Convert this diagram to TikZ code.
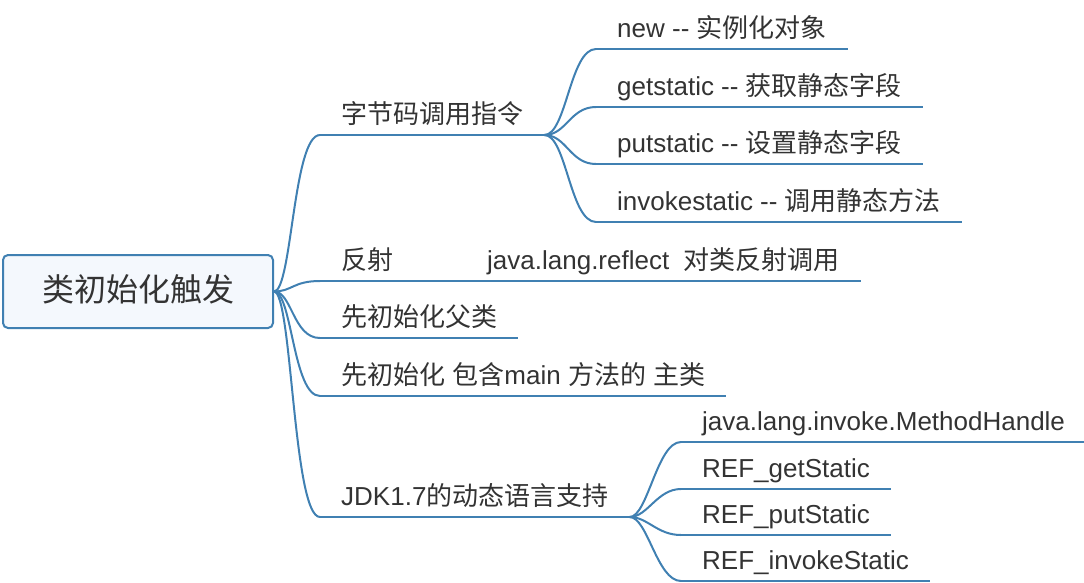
\documentclass[tikz,border=0pt]{standalone}
\usepackage{fontspec}
\usepackage{xcolor}
\usepackage{tikz}
\setmainfont{Liberation Sans}
\newfontfamily\cjkfont{Noto Sans CJK SC}

% switch to the CJK font for ideographs
\XeTeXinterchartokenstate=1
\newXeTeXintercharclass\cjkclass
\newcount\cjkcode
\cjkcode="4E00
\loop
  \XeTeXcharclass\cjkcode=\cjkclass
  \advance\cjkcode by 1
\ifnum\cjkcode<"A000 \repeat
\XeTeXinterchartoks 0 \cjkclass = {\cjkfont}
\XeTeXinterchartoks 4095 \cjkclass = {\cjkfont}
\XeTeXinterchartoks \cjkclass 0 = {\rmfamily}
\XeTeXinterchartoks \cjkclass 4095 = {\rmfamily}

\definecolor{branchblue}{RGB}{64,128,178}
\definecolor{rootfill}{RGB}{244,248,253}
\definecolor{textgray}{RGB}{51,51,51}

\tikzset{
  rootbox/.style={draw=branchblue, line width=2pt, fill=rootfill, rounded corners=5pt,
    minimum width=270pt, minimum height=73pt, inner sep=0pt, text height=24pt, text depth=4pt,
    font=\fontsize{32}{38}\selectfont, text=textgray},
  topic/.style={anchor=south west, inner xsep=21pt, inner ysep=6pt, text height=20pt,
    text depth=5pt, font=\fontsize{26}{30}\selectfont, text=textgray},
  branch/.style={draw=branchblue, line width=2pt}
}

\begin{document}
\begin{tikzpicture}[x=1pt, y=-1pt]
  \useasboundingbox (0,0) rectangle (1084,582);
  % root
  \node[rootbox] (root) at (138,291.5) {类初始化触发};
  % first level
  \node[topic] (code) at (320,135) {字节码调用指令};
  \node[topic] (refl) at (320,281) {反射};
  \node[topic] (reflapi) at (466,281) {java.lang.reflect\ \ 对类反射调用};
  \node[topic] (parent) at (320,338) {先初始化父类};
  \node[topic] (mainclass) at (320,396) {先初始化 包含main 方法的 主类};
  \node[topic] (jdk) at (320,517) {JDK1.7的动态语言支持};
  % second level, bytecode
  \node[topic] (new) at (596,49) {new -{}- 实例化对象};
  \node[topic] (getstatic) at (596,107) {getstatic -{}- 获取静态字段};
  \node[topic] (putstatic) at (596,164) {putstatic -{}- 设置静态字段};
  \node[topic] (invokestatic) at (596,222) {invokestatic -{}- 调用静态方法};
  % second level, jdk 1.7
  \node[topic] (handle) at (681,442) {java.lang.invoke.MethodHandle};
  \node[topic] (refget) at (681,489) {REF\_getStatic};
  \node[topic] (refput) at (681,535) {REF\_putStatic};
  \node[topic] (refinvoke) at (681,581) {REF\_invokeStatic};
  % underlines
  \foreach \n in {code,refl,reflapi,parent,mainclass,jdk,new,getstatic,putstatic,invokestatic,handle,refget,refput,refinvoke}
    \draw[branch] (\n.south west) -- (\n.south east);
  % connectors
  \foreach \n in {code,refl,parent,mainclass,jdk}
    \draw[branch] (root.east) .. controls +(18,0) and +(-27,0) .. (\n.south west);
  \draw[branch] (refl.south east) -- (reflapi.south west);
  \foreach \n in {new,getstatic,putstatic,invokestatic}
    \draw[branch] (code.south east) .. controls +(22,0) and +(-26,0) .. (\n.south west);
  \foreach \n in {handle,refget,refput,refinvoke}
    \draw[branch] (jdk.south east) .. controls +(18,0) and +(-24,0) .. (\n.south west);
\end{tikzpicture}
\end{document}
